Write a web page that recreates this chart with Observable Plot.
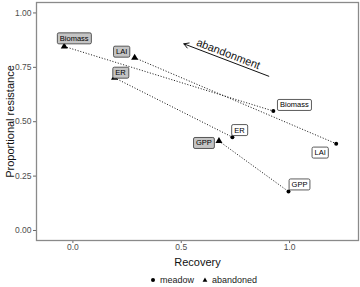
<!DOCTYPE html>
<html>
<head>
<meta charset="utf-8">
<script src="https://cdn.jsdelivr.net/npm/d3@7"></script>
<script src="https://cdn.jsdelivr.net/npm/@observablehq/plot@0.6"></script>
<style>
  body { margin: 0; background: #fff; font-family: "Liberation Sans", Arial, sans-serif; }
  #chart { width: 360px; }
  .legend { display: flex; align-items: center; font-size: 9px; color: #1a1a1a; height: 15px; margin-left: 149px; gap: 3px; }
  .legend svg { display: block; }
</style>
</head>
<body>
<div id="chart"></div>
<script>
// ---- data ----
const variables = ["Biomass", "LAI", "ER", "GPP"];
const meadowRecovery = [0.925, 1.215, 0.736, 0.995];
const meadowResistance = [0.549, 0.399, 0.429, 0.179];
const abandonedRecovery = [-0.04, 0.285, 0.192, 0.674];
const abandonedResistance = [0.846, 0.794, 0.702, 0.411];
const xTicks = [0, 0.5, 1.0];
const yTicks = [0, 0.25, 0.5, 0.75, 1.0];
const xLabel = "Recovery";
const yLabel = "Proportional resistance";
const arrowFrom = [0.904, 0.709];
const arrowTo = [0.512, 0.858];
const arrowText = "abandonment";
const legendLabels = ["meadow", "abandoned"];

// label nudges (pixels) – layout, like ggrepel output
const nudgeAbandoned = [[10, -8], [-13, -6], [6, -5], [-15, 2]];
const nudgeMeadow = [[21, -6], [-16, 9], [7, -7], [11, -7]];

const meadow = variables.map((v, i) => ({v, x: meadowRecovery[i], y: meadowResistance[i]}));
const abandoned = variables.map((v, i) => ({v, x: abandonedRecovery[i], y: abandonedResistance[i]}));
const links = variables.map((v, i) => ({v, x1: abandonedRecovery[i], y1: abandonedResistance[i], x2: meadowRecovery[i], y2: meadowResistance[i]}));

const labelMarks = [];
abandoned.forEach((d, i) => labelMarks.push(Plot.text([d], {
  x: "x", y: "y", text: "v", dx: nudgeAbandoned[i][0], dy: nudgeAbandoned[i][1],
  fontSize: 7.5, fill: "#000", ariaDescription: "label-abandoned"
})));
meadow.forEach((d, i) => labelMarks.push(Plot.text([d], {
  x: "x", y: "y", text: "v", dx: nudgeMeadow[i][0], dy: nudgeMeadow[i][1],
  fontSize: 7.5, fill: "#000", ariaDescription: "label-meadow"
})));

const mid = {x: (arrowFrom[0] + arrowTo[0]) / 2, y: (arrowFrom[1] + arrowTo[1]) / 2, t: arrowText};

const plot = Plot.plot({
  width: 360,
  height: 272,
  marginLeft: 36,
  marginRight: 2,
  marginTop: 2,
  marginBottom: 32,
  style: {fontFamily: "Liberation Sans, Arial, sans-serif", background: "#fff", overflow: "visible"},
  x: {domain: [-0.168, 1.318], ticks: xTicks, tickFormat: d3.format(".1f"), label: null, tickSize: 3, tickPadding: 0},
  y: {domain: [-0.046, 1.048], ticks: yTicks, tickFormat: d3.format(".2f"), label: null, tickSize: 3, tickPadding: 2},
  marks: [
    Plot.link(links, {x1: "x1", y1: "y1", x2: "x2", y2: "y2", stroke: "#222", strokeWidth: 1, strokeDasharray: "1.1,1.7"}),
    Plot.dot(meadow, {x: "x", y: "y", r: 2, fill: "#000", symbol: "circle"}),
    Plot.dot(abandoned, {x: "x", y: "y", r: 2.6, fill: "#000", symbol: "triangle"}),
    ...labelMarks,
    Plot.arrow([{x1: arrowFrom[0], y1: arrowFrom[1], x2: arrowTo[0], y2: arrowTo[1]}], {
      x1: "x1", y1: "y1", x2: "x2", y2: "y2", stroke: "#111", strokeWidth: 1, headLength: 8
    }),
    Plot.text([mid], {x: "x", y: "y", text: "t", rotate: 21, dx: 2, dy: -6, fontSize: 11, fill: "#111"}),
    Plot.text([xLabel], {frameAnchor: "bottom", lineAnchor: "middle", textAnchor: "middle", dy: 22, fontSize: 11, fill: "#111"}),
    Plot.text([yLabel], {frameAnchor: "left", lineAnchor: "middle", textAnchor: "middle", rotate: -90, dx: -26, fontSize: 11, fill: "#111"}),
    Plot.frame({stroke: "#8a8a8a", strokeWidth: 1.3})
  ]
});

document.getElementById("chart").appendChild(plot);

// style axes
d3.select(plot).selectAll('g[aria-label="x-axis tick label"], g[aria-label="y-axis tick label"]')
  .attr("fill", "#4d4d4d").attr("font-size", 8.5);
d3.select(plot).selectAll('g[aria-label="x-axis tick"], g[aria-label="y-axis tick"]')
  .attr("stroke", "#666");

// label boxes
d3.select(plot).selectAll('g[aria-description^="label-"]').each(function() {
  const g = this;
  const isAb = g.getAttribute("aria-description") === "label-abandoned";
  d3.select(g).selectAll("text").each(function() {
    const b = this.getBBox();
    const r = document.createElementNS("http://www.w3.org/2000/svg", "rect");
    const px = 2.5, py = 1;
    r.setAttribute("x", b.x - px);
    r.setAttribute("y", b.y - py);
    r.setAttribute("width", b.width + 2 * px);
    r.setAttribute("height", b.height + 2 * py);
    r.setAttribute("rx", 1.5);
    r.setAttribute("fill", isAb ? "#c4c4c4" : "#ffffff");
    r.setAttribute("stroke", "#333");
    r.setAttribute("stroke-width", 0.8);
    const t = this.getAttribute("transform");
    if (t) r.setAttribute("transform", t);
    this.parentNode.insertBefore(r, this);
  });
});

// legend
const leg = document.createElement("div");
leg.className = "legend";
leg.innerHTML =
  '<svg width="8" height="8"><circle cx="4" cy="4" r="2" fill="#000"/></svg><span>' + legendLabels[0] + '</span>' +
  '<svg width="8" height="8" style="margin-left:4px"><path d="M4,1.6 L6.4,5.8 L1.6,5.8 Z" fill="#000"/></svg><span>' + legendLabels[1] + '</span>';
document.getElementById("chart").appendChild(leg);
</script>
</body>
</html>
